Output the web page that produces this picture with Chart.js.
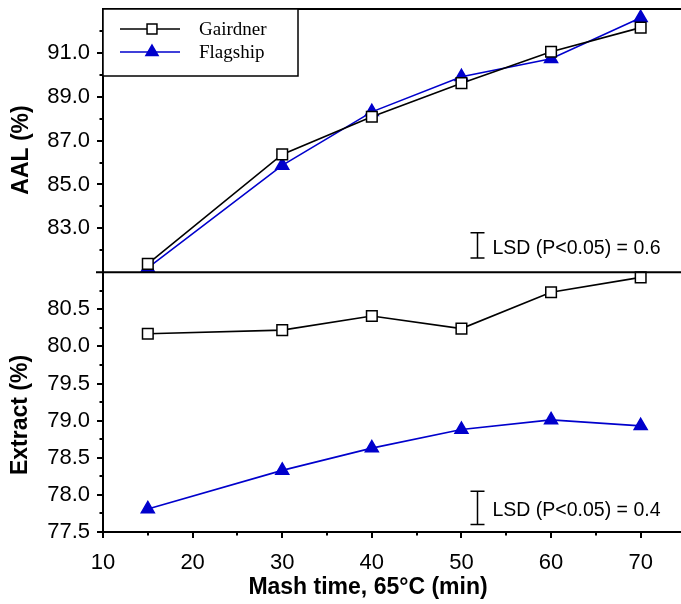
<!DOCTYPE html>
<html>
<head>
<meta charset="utf-8">
<script src="https://cdn.jsdelivr.net/npm/chart.js@4/dist/chart.umd.min.js"></script>
<style>
  html, body { margin: 0; padding: 0; background: #fff; }
</style>
</head>
<body>
<canvas id="mashChart" width="681" height="604"></canvas>
<script>
var mashTime = [15, 30, 40, 50, 60, 70];
var aalGairdner = [81.38, 86.37, 88.09, 89.62, 91.05, 92.15];
var aalFlagship = [81.2, 85.87, 88.31, 89.91, 90.73, 92.6];
var extractGairdner = [80.17, 80.22, 80.41, 80.24, 80.73, 80.93];
var extractFlagship = [77.81, 78.33, 78.63, 78.88, 79.01, 78.93];
var xTicks = [10, 20, 30, 40, 50, 60, 70];
var aalTicks = [83, 85, 87, 89, 91];
var extractTicks = [77.5, 78, 78.5, 79, 79.5, 80, 80.5];
var seriesNames = ["Gairdner", "Flagship"];
var lsdText = ["LSD (P<0.05) = 0.6", "LSD (P<0.05) = 0.4"];

var blue = '#0000cc';
var sans = '"Liberation Sans", Arial, sans-serif';

function pts(ys) {
    return mashTime.map(function (x, i) { return {x: x, y: ys[i]}; });
}

function series(label, ys, axis, color, style) {
    return {
        label: label,
        data: pts(ys),
        yAxisID: axis,
        borderColor: color,
        borderWidth: 1.6,
        backgroundColor: style === 'rect' ? '#fff' : color,
        pointStyle: style,
        pointRadius: 7.5,
        pointBorderColor: color,
        pointBackgroundColor: style === 'rect' ? '#fff' : color,
        pointBorderWidth: 1.5,
        tension: 0,
        clip: false
    };
}

function noPad(s) {
    s.paddingTop = 0; s.paddingBottom = 0; s.paddingLeft = 0; s.paddingRight = 0;
}

// ticks, frame lines, titles, legend box and LSD bars
var framePlugin = {
    id: 'frame',
    afterDraw: function (chart) {
        var ctx = chart.ctx;
        var ca = chart.chartArea;
        var sx = chart.scales.x, st = chart.scales.yTop, sb = chart.scales.yBot;
        ctx.save();
        ctx.strokeStyle = '#000';
        ctx.lineWidth = 2;

        // y ticks
        [[st, aalTicks], [sb, extractTicks]].forEach(function (pair) {
            var s = pair[0];
            s.ticks.forEach(function (t) {
                if (t.value === s.max || (s === st && t.value === s.min)) return;
                var len = pair[1].includes(t.value) ? 6 : 3.5;
                var p = Math.round(s.getPixelForValue(t.value));
                ctx.beginPath();
                ctx.moveTo(ca.left, p);
                ctx.lineTo(ca.left - len, p);
                ctx.stroke();
            });
        });
        // x ticks
        sx.ticks.forEach(function (t) {
            var len = xTicks.includes(t.value) ? 6 : 3.5;
            var p = Math.round(sx.getPixelForValue(t.value));
            ctx.beginPath();
            ctx.moveTo(p, ca.bottom);
            ctx.lineTo(p, ca.bottom + len);
            ctx.stroke();
        });

        // top border and panel separator
        ctx.beginPath();
        ctx.moveTo(ca.left - 1, st.top);
        ctx.lineTo(ca.right, st.top);
        ctx.moveTo(ca.left - 7, st.bottom);
        ctx.lineTo(ca.right, st.bottom);
        ctx.stroke();

        // axis titles
        ctx.fillStyle = '#000';
        ctx.font = 'bold 23px ' + sans;
        ctx.textAlign = 'center';
        ctx.textBaseline = 'middle';
        ctx.fillText('Mash time, 65°C (min)', 368, 588);
        [['AAL (%)', 22, 150], ['Extract (%)', 21, 415]].forEach(function (t) {
            ctx.save();
            ctx.translate(t[1], t[2]);
            ctx.rotate(-Math.PI / 2);
            ctx.fillText(t[0], 0, 0);
            ctx.restore();
        });
        ctx.textAlign = 'left';

        // legend
        var lx = ca.left, ly = ca.top;
        ctx.lineWidth = 1.5;
        ctx.fillStyle = '#fff';
        ctx.fillRect(lx, ly, 195, 67);
        ctx.strokeRect(lx, ly, 195, 67);
        ctx.font = '19px "Liberation Serif", "Times New Roman", serif';
        [0, 1].forEach(function (i) {
            var ds = chart.data.datasets[i];
            var y = ly + 20 + i * 23;
            ctx.strokeStyle = ds.borderColor;
            ctx.lineWidth = 1.5;
            ctx.beginPath();
            ctx.moveTo(lx + 17, y);
            ctx.lineTo(lx + 77, y);
            ctx.stroke();
            ctx.fillStyle = ds.pointBackgroundColor;
            Chart.helpers.drawPoint(ctx, {pointStyle: ds.pointStyle, radius: 7, borderWidth: 1.5, rotation: 0}, lx + 49, y);
            ctx.fillStyle = '#000';
            ctx.fillText(seriesNames[i], lx + 96, y + 1.5);
        });

        // LSD bars
        ctx.strokeStyle = '#000';
        ctx.fillStyle = '#000';
        ctx.lineWidth = 1.5;
        ctx.font = '19.5px ' + sans;
        var bx = Math.round(sx.getPixelForValue(51.7)) + 0.5;
        [[st, 81.65, 82.8], [sb, 77.6, 78.05]].forEach(function (b, i) {
            var y1 = b[0].getPixelForValue(b[1]), y2 = b[0].getPixelForValue(b[2]);
            ctx.beginPath();
            ctx.moveTo(bx, y1); ctx.lineTo(bx, y2);
            ctx.moveTo(bx - 7, y1); ctx.lineTo(bx + 7, y1);
            ctx.moveTo(bx - 7, y2); ctx.lineTo(bx + 7, y2);
            ctx.stroke();
            ctx.fillText(lsdText[i], bx + 15, (y1 + y2) / 2 + 3);
        });
        ctx.restore();
    }
};

var tickFont = {family: sans, size: 22};

new Chart(document.getElementById('mashChart').getContext('2d'), {
    type: 'line',
    data: {
        datasets: [
            series(seriesNames[0], aalGairdner, 'yTop', '#000', 'rect'),
            series(seriesNames[1], aalFlagship, 'yTop', blue, 'triangle'),
            series(seriesNames[0], extractGairdner, 'yBot', '#000', 'rect'),
            series(seriesNames[1], extractFlagship, 'yBot', blue, 'triangle')
        ]
    },
    options: {
        responsive: false,
        animation: false,
        layout: {autoPadding: false, padding: {top: 9, left: 0, right: 0, bottom: 0}},
        plugins: {legend: {display: false}, tooltip: {enabled: false}},
        scales: {
            x: {
                type: 'linear', min: 10, max: 74.5,
                grid: {drawOnChartArea: false, tickLength: 6, tickColor: 'rgba(0,0,0,0)'},
                border: {color: '#000', width: 2},
                ticks: {stepSize: 5, includeBounds: false, autoSkip: false, maxRotation: 0, padding: 12,
                    color: '#000', font: tickFont,
                    callback: function (v) { return xTicks.includes(v) ? String(v) : ''; }},
                afterFit: function (s) { s.height = 72; noPad(s); }
            },
            yTop: {
                type: 'linear', position: 'left', stack: 'panels', stackWeight: 1.013, weight: 2,
                min: 81, max: 93,
                grid: {drawOnChartArea: false, tickLength: 6, tickColor: 'rgba(0,0,0,0)'},
                border: {color: '#000', width: 2},
                ticks: {stepSize: 1, autoSkip: false, padding: 7, color: '#000', font: tickFont,
                    callback: function (v) { return aalTicks.includes(v) ? v.toFixed(1) : ''; }},
                afterFit: function (s) { s.width = 103; noPad(s); }
            },
            yBot: {
                type: 'linear', position: 'left', stack: 'panels', stackWeight: 1, weight: 1,
                min: 77.5, max: 81,
                grid: {drawOnChartArea: false, tickLength: 6, tickColor: 'rgba(0,0,0,0)'},
                border: {color: '#000', width: 2},
                ticks: {stepSize: 0.25, autoSkip: false, padding: 7, color: '#000', font: tickFont,
                    callback: function (v) { return extractTicks.includes(v) ? v.toFixed(1) : ''; }},
                afterFit: function (s) { s.width = 103; noPad(s); }
            }
        }
    },
    plugins: [framePlugin]
});
</script>
</body>
</html>
